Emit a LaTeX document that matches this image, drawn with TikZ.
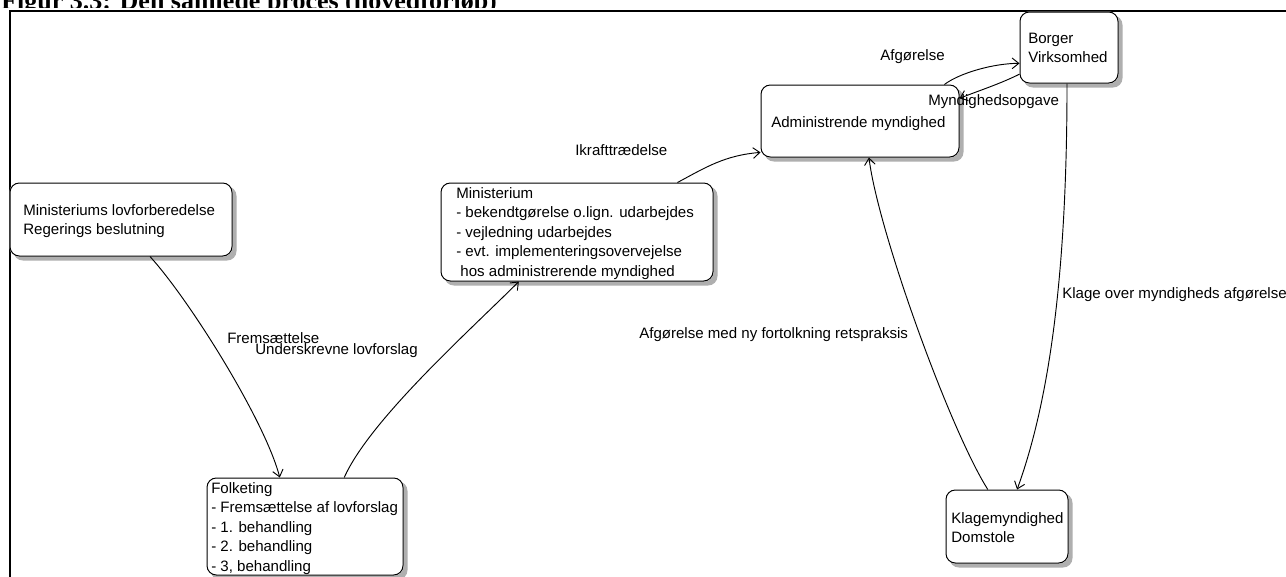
\documentclass[tikz,border=0pt]{standalone}
\usepackage{fontspec}
\setmainfont{Liberation Sans}
\newfontfamily\captionserif{Liberation Serif}
\usetikzlibrary{arrows.meta,calc,fit,backgrounds}

\definecolor{shadowgray}{RGB}{175,175,175}

\begin{document}
\begin{tikzpicture}[x=0.75pt,y=-0.75pt,
  box/.style={draw=black, line width=0.75pt, rounded corners=7pt, inner sep=0pt},
  boxshadow/.style={fill=shadowgray, rounded corners=7pt},
  lbl/.style={font=\fontsize{11.3pt}{14.7pt}\selectfont, inner sep=0pt, anchor=base west, text=black},
  flow/.style={draw=black, line width=0.7pt, -{Straight Barb[length=5pt,width=8pt]}}
]
\useasboundingbox (0,0) rectangle (1286,576);

% boxes
\node[box, fit={(10,183) (232,256)}]   (lov)    {};
\node[box, fit={(441,183) (713,281)}]  (min)    {};
\node[box, fit={(207,478) (403,575)}]  (folk)   {};
\node[box, fit={(761,85) (959,157)}]   (admin)  {};
\node[box, fit={(1020,12) (1118,83)}]  (borger) {};
\node[box, fit={(946,490) (1068,563)}] (klage)  {};

% caption, diagram area and the box shadows behind everything else
\begin{scope}[on background layer]
  \node[anchor=base west, inner sep=0pt,
        font=\captionserif\bfseries\fontsize{19.5pt}{22pt}\selectfont] (caption) at (1,9.5)
    {Figur 3.3: Den samlede proces (hovedforløb)};
  \fill[white] (-5,8) rectangle (1300,600);
  \draw[line width=1.5pt] (9.5,600) -- (9.5,11) -- (1300,11);
  \foreach \b in {lov,min,folk,admin,borger,klage}{
    \fill[boxshadow] ($(\b.south west)+(4,4)$) rectangle ($(\b.north east)+(4,4)$);
    \fill[white, rounded corners=7pt] (\b.south west) rectangle (\b.north east);
  }
\end{scope}

% box texts
\node[lbl] (lovtxt) at (23,215) {\begin{tabular}[t]{@{}l@{}}Ministeriums lovforberedelse\\Regerings beslutning\end{tabular}};
\node[lbl] (mintxt) at (456,198) {\begin{tabular}[t]{@{}l@{}}Ministerium\\- bekendtgørelse o.lign. udarbejdes\\- vejledning udarbejdes\\- evt. implementeringsovervejelse\\\ hos administrerende myndighed\end{tabular}};
\node[lbl] (folktxt) at (211,493) {\begin{tabular}[t]{@{}l@{}}Folketing\\- Fremsættelse af lovforslag\\- 1. behandling\\- 2. behandling\\- 3, behandling\end{tabular}};
\node[lbl] (admintxt) at (771,127) {Administrende myndighed};
\node[lbl] (borgertxt) at (1028,43) {\begin{tabular}[t]{@{}l@{}}Borger\\Virksomhed\end{tabular}};
\node[lbl] (klagetxt) at (951,523) {\begin{tabular}[t]{@{}l@{}}Klagemyndighed\\Domstole\end{tabular}};

% connectors
\draw[flow] ($(lov.south west)!0.63!(lov.south east)$)
  .. controls +(40,44) and +(-15,-57) .. ($(folk.north west)!0.372!(folk.north east)$);
\draw[flow] ($(folk.north west)!0.699!(folk.north east)$)
  .. controls +(26,-58) and +(-49,49) .. ($(min.south west)!0.287!(min.south east)$);
\draw[flow] ($(min.north west)!0.868!(min.north east)$)
  .. controls +(28,-15) and +(-36,3) .. ($(admin.north west)!0.93!(admin.south west)$);
\draw[flow] ($(admin.north west)!0.924!(admin.north east)$)
  .. controls +(16,-12) and +(-25,0) .. ($(borger.north west)!0.72!(borger.south west)$);
\draw[flow] ($(borger.north west)!0.87!(borger.south west)$)
  .. controls +(-20,10) and +(20,-8) .. ($(admin.north east)!0.19!(admin.south east)$);
\draw[flow] ($(borger.south west)!0.48!(borger.south east)$)
  .. controls +(0,207) and +(29,-80) .. ($(klage.north west)!0.582!(klage.north east)$);
\draw[flow] ($(klage.north west)!0.344!(klage.north east)$)
  .. controls +(-38,-60) and +(9,73) .. ($(admin.south west)!0.545!(admin.south east)$);

% connector labels
\node[lbl] (l1) at (227,343) {Fremsættelse};
\node[lbl] (l2) at (255,354) {Underskrevne lovforslag};
\node[lbl] (l3) at (575,155) {Ikrafttrædelse};
\node[lbl] (l4) at (880,60) {Afgørelse};
\node[lbl] (l5) at (928,105) {Myndighedsopgave};
\node[lbl] (l6) at (1062,298) {Klage over myndigheds afgørelse};
\node[lbl] (l7) at (639,338) {Afgørelse med ny fortolkning retspraksis};
\end{tikzpicture}
\end{document}
